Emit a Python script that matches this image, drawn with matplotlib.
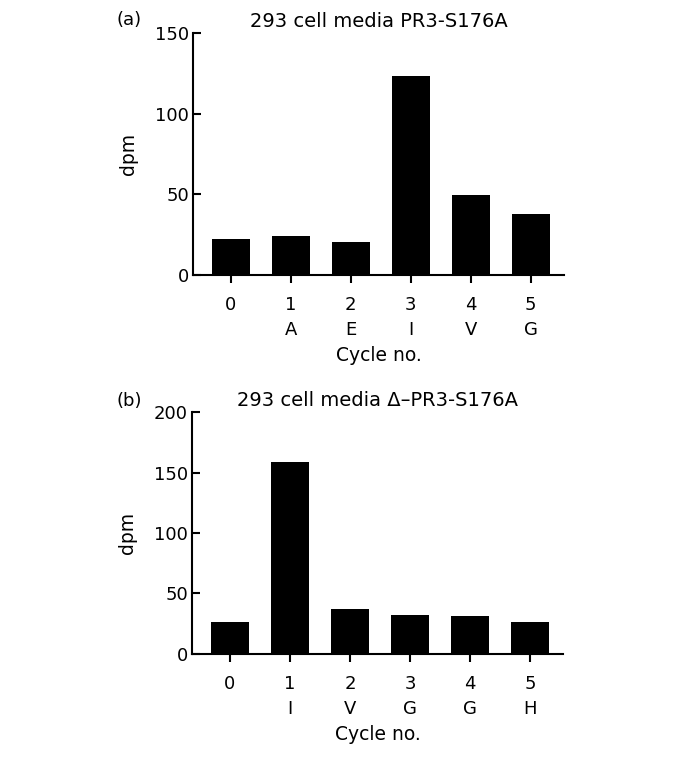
import matplotlib.pyplot as plt
import numpy as np

plt.rcParams['font.family'] = ['DejaVu Sans']

cycles = ['0', '1', '2', '3', '4', '5']
residues_a = ['', 'A', 'E', 'I', 'V', 'G']
residues_b = ['', 'I', 'V', 'G', 'G', 'H']
dpm_a = [22.3, 24.2, 20.5, 123.5, 49.7, 37.9]
dpm_b = [26.2, 158.4, 36.9, 32.0, 31.1, 26.2]

fig = plt.figure(figsize=(6.76, 7.78), dpi=100)

panels = [
    ([0.2855, 0.6465, 0.5485, 0.3111], dpm_a, residues_a, 150, 50,
     '293 cell media PR3-S176A', '(a)', 0.974),
    ([0.284, 0.1594, 0.549, 0.311], dpm_b, residues_b, 200, 50,
     '293 cell media \u0394\u2013PR3-S176A', '(b)', 0.485),
]

for rect, vals, res, ymax, step, title, tag, tag_y in panels:
    ax = fig.add_axes(rect)
    x = np.arange(len(vals))
    ax.bar(x, vals, width=0.63, color='black')
    ax.set_xlim(-0.63, 5.55)
    ax.set_ylim(0, ymax)
    ax.set_yticks(np.arange(0, ymax + 1, step))
    ax.set_xticks(x)
    ax.set_xticklabels([c + '\n' + r for c, r in zip(cycles, res)],
                       linespacing=1.5)
    for s in ['top', 'right']:
        ax.spines[s].set_visible(False)
    for s in ['left', 'bottom']:
        ax.spines[s].set_linewidth(1.5)
    ax.tick_params(axis='y', direction='in', length=6, width=1.5, pad=3,
                   labelsize=13)
    ax.tick_params(axis='x', direction='out', length=6, width=1.5, pad=9,
                   labelsize=13)
    ax.set_xlabel('Cycle no.', fontsize=13.5, labelpad=5)
    ax.set_ylabel('dpm', fontsize=13.5, labelpad=12)
    ax.set_title(title, fontsize=14, pad=4)
    fig.text(0.172, tag_y, tag, fontsize=13, va='center')

plt.savefig('out.png', dpi=100)
